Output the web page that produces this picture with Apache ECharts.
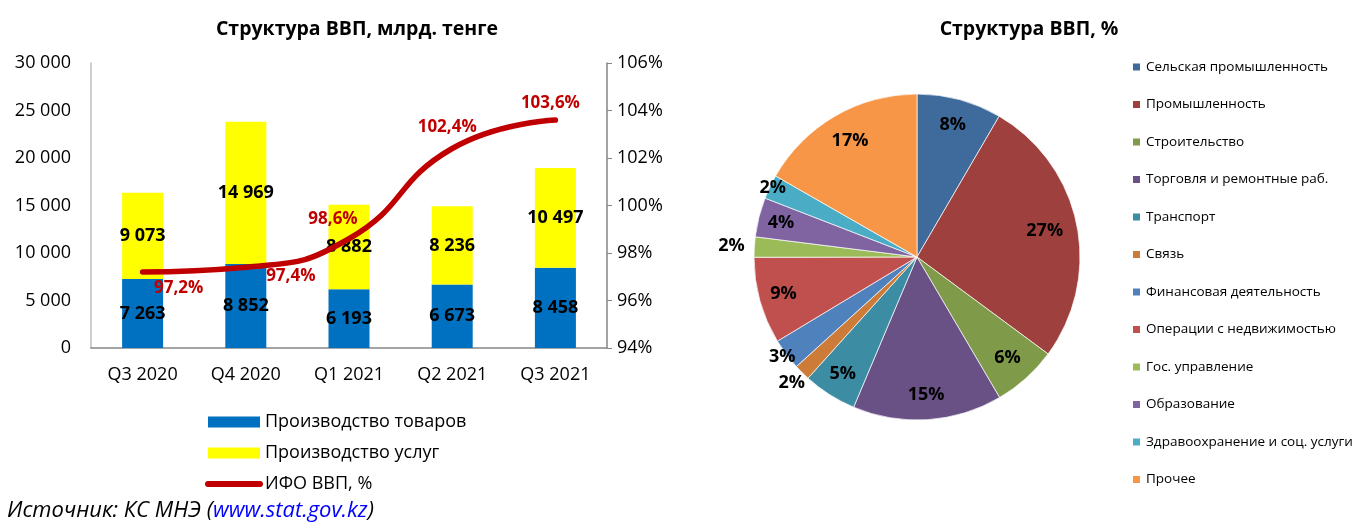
<!DOCTYPE html>
<html>
<head>
<meta charset="utf-8">
<script src="https://cdn.jsdelivr.net/npm/echarts@6/dist/echarts.min.js"></script>
<style>
  html, body { margin: 0; padding: 0; background: #fff; }
  #main { width: 1356px; height: 522px; }
</style>
</head>
<body>
<div id="main"></div>
<script>
// данные: структура ВВП, млрд. тенге
var quarters = ['Q3 2020', 'Q4 2020', 'Q1 2021', 'Q2 2021', 'Q3 2021'];
var goodsValues = [7263, 8852, 6193, 6673, 8458];
var servicesValues = [9073, 14969, 8882, 8236, 10497];
var ifoValues = [97.2, 97.4, 98.6, 102.4, 103.6];

// данные: структура ВВП, %
var sectorNames = ['Сельская промышленность', 'Промышленность', 'Строительство',
  'Торговля и ремонтные раб.', 'Транспорт', 'Связь', 'Финансовая деятельность',
  'Операции с недвижимостью', 'Гос. управление', 'Образование',
  'Здравоохранение и соц. услуги', 'Прочее'];
var sectorShares = [8.4, 26.7, 6.4, 14.8, 5.3, 1.6, 3.1, 8.6, 2.0, 3.9, 2.4, 16.7];

var sectorColors = ['#3F6B9C', '#9E413E', '#7F9A48', '#695185', '#3C8DA3', '#CC7B38',
  '#4F81BD', '#C0504D', '#9BBB59', '#8064A2', '#4BACC6', '#F79646'];
// смещения подписей линии относительно точки
var ifoLabelOffsets = [[36, 16], [45, 9], [-16, -20], [-5, -21], [-5, -17]];
// расстояние подписей сектора от центра (доля радиуса)
var pieLabelRadius = [0.84, 0.8, 0.83, 0.85, 0.85, 1.09, 1.03, 0.85, 1.14, 0.86, 0.98, 0.82];

var FONT = '"Open Sans", "Noto Sans", sans-serif';
var pieCenter = [917, 257];
var pieR = 163;

function fmtThousands(v) {
  return String(v).replace(/\B(?=(\d{3})+(?!\d))/g, ' ');
}

var ifoData = ifoValues.map(function (v, i) {
  return {
    value: v,
    label: { offset: ifoLabelOffsets[i] }
  };
});

var pieData = sectorShares.map(function (v, i) {
  return { value: v, name: sectorNames[i], itemStyle: { color: sectorColors[i] } };
});

// средние углы секторов (по часовой стрелке от 12 часов)
var total = sectorShares.reduce(function (a, b) { return a + b; }, 0);
var midAngles = [];
var acc = 0;
sectorShares.forEach(function (v) {
  midAngles.push((acc + v / 2) / total * Math.PI * 2);
  acc += v;
});

var chart = echarts.init(document.getElementById('main'));
var option = {
  backgroundColor: '#fff',
  animation: false,
  textStyle: { fontFamily: FONT },
  title: [{
    text: 'Структура ВВП, млрд. тенге',
    left: 352, top: 14, textAlign: 'center',
    textStyle: { fontSize: 19.5, fontWeight: 'bold', color: '#000', fontFamily: FONT }
  }, {
    text: 'Структура ВВП, %',
    left: 1024, top: 14, textAlign: 'center',
    textStyle: { fontSize: 19.5, fontWeight: 'bold', color: '#000', fontFamily: FONT }
  }],
  legend: [{
    orient: 'vertical',
    left: 205, top: 412, padding: 0,
    itemWidth: 52, itemHeight: 11, itemGap: 11,
    textStyle: { fontSize: 18, lineHeight: 20, color: '#000', fontFamily: FONT },
    data: [
      { name: 'Производство товаров', icon: 'rect' },
      { name: 'Производство услуг', icon: 'rect' },
      { name: 'ИФО ВВП, %', itemStyle: { opacity: 0 }, lineStyle: { width: 6, cap: 'round' } }
    ]
  }, {
    orient: 'vertical',
    left: 1131, top: 59, padding: 0,
    itemWidth: 9, itemHeight: 9, itemGap: 21.5,
    icon: 'rect',
    textStyle: { fontSize: 13.5, lineHeight: 16, color: '#000', fontFamily: FONT },
    data: sectorNames
  }],
  grid: { left: 91, right: 749, top: 63, bottom: 174 },
  xAxis: {
    type: 'category',
    data: quarters,
    axisLine: { lineStyle: { color: '#868686', width: 1.5 } },
    axisTick: { show: false },
    axisLabel: { fontSize: 18, color: '#000', margin: 18, fontFamily: FONT }
  },
  yAxis: [{
    type: 'value',
    min: 0, max: 30000, interval: 5000,
    splitLine: { show: false },
    axisLine: { show: true, lineStyle: { color: '#BFBFBF', width: 1.5 } },
    axisTick: { show: false },
    axisLabel: { fontSize: 18, color: '#000', margin: 20, formatter: fmtThousands, fontFamily: FONT }
  }, {
    type: 'value',
    min: 94, max: 106, interval: 2,
    position: 'right',
    splitLine: { show: false },
    axisLine: { show: true, lineStyle: { color: '#868686', width: 1.5 } },
    axisTick: { show: true, length: 5, lineStyle: { color: '#868686' } },
    axisLabel: { fontSize: 18, color: '#000', margin: 10, formatter: '{value}%', fontFamily: FONT }
  }],
  series: [{
    name: 'Производство товаров',
    type: 'bar',
    stack: 'vvp',
    barWidth: 41,
    data: goodsValues,
    itemStyle: { color: '#0070C0' },
    label: {
      show: true, position: 'inside', color: '#000', fontSize: 18, fontWeight: 'bold',
      fontFamily: FONT,
      formatter: function (p) { return fmtThousands(p.value); }
    }
  }, {
    name: 'Производство услуг',
    type: 'bar',
    stack: 'vvp',
    barWidth: 41,
    data: servicesValues,
    itemStyle: { color: '#FFFF00' },
    label: {
      show: true, position: 'inside', color: '#000', fontSize: 18, fontWeight: 'bold',
      fontFamily: FONT,
      formatter: function (p) { return fmtThousands(p.value); }
    }
  }, {
    name: 'ИФО ВВП, %',
    type: 'line',
    yAxisIndex: 1,
    smooth: true,
    symbol: 'circle',
    symbolSize: 1,
    z: 5,
    data: ifoData,
    lineStyle: { color: '#C00000', width: 5.5, cap: 'round' },
    itemStyle: { color: '#C00000' },
    label: {
      show: true, position: 'inside', color: '#C00000', fontSize: 17, fontWeight: 'bold',
      fontFamily: FONT,
      formatter: function (p) { return p.value.toFixed(1).replace('.', ',') + '%'; }
    }
  }, {
    name: 'Структура ВВП, %',
    type: 'pie',
    center: pieCenter,
    radius: pieR,
    startAngle: 90,
    clockwise: true,
    data: pieData,
    itemStyle: { borderColor: '#fff', borderWidth: 0.7 },
    emphasis: { disabled: true },
    label: {
      show: true, position: 'inside', color: '#000', fontSize: 18, fontWeight: 'bold',
      fontFamily: FONT,
      formatter: function (p) { return Math.round(p.value) + '%'; }
    },
    labelLine: { show: false },
    labelLayout: function (p) {
      var i = p.dataIndex;
      var r = pieR * pieLabelRadius[i];
      return {
        x: pieCenter[0] + r * Math.sin(midAngles[i]),
        y: pieCenter[1] - r * Math.cos(midAngles[i]),
        align: 'center',
        verticalAlign: 'middle'
      };
    }
  }],
  graphic: [{
    type: 'text',
    left: 7, top: 500,
    style: {
      text: '{a|Источник: КС МНЭ (}{b|www.stat.gov.kz}{a|)}',
      rich: {
        a: { fontSize: 22, fontStyle: 'italic', fill: '#000', fontFamily: FONT },
        b: { fontSize: 22, fontStyle: 'italic', fill: '#0000FF', fontFamily: FONT }
      }
    }
  }]
};
chart.setOption(option);
</script>
</body>
</html>
